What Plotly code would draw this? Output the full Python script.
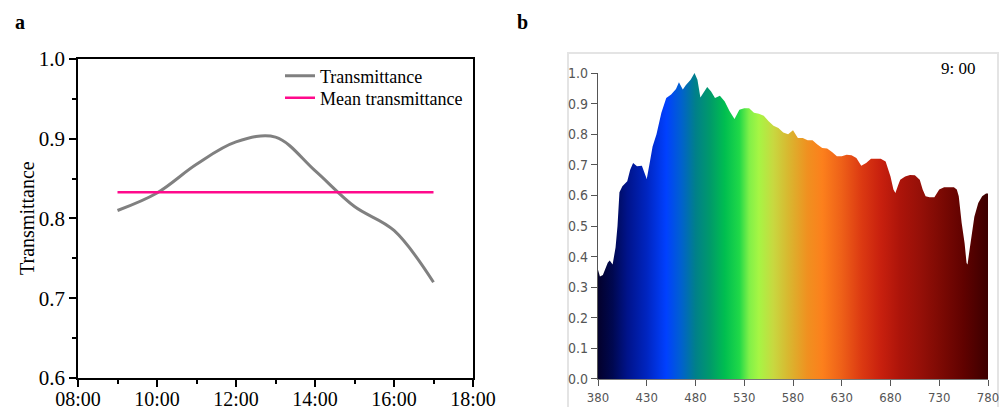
import plotly.graph_objects as go

# ---------------- data: panel a ----------------
hours = [9, 10, 11, 12, 13, 14, 15, 16, 17]
transmittance = [0.810, 0.832, 0.868, 0.896, 0.902, 0.860, 0.815, 0.785, 0.720]
mean_transmittance = 0.833
a_xtick_vals = [8, 10, 12, 14, 16, 18]
a_xtick_text = ["08:00", "10:00", "12:00", "14:00", "16:00", "18:00"]
a_ytick_vals = [0.6, 0.7, 0.8, 0.9, 1.0]

# ---------------- data: panel b (spectrum at 9:00) ----------------
wavelength = [380, 382, 385, 390, 392, 395, 398, 400, 402, 405, 410, 413, 416, 420, 425,
              430, 433, 436, 440, 445, 450, 455, 460, 463, 467, 470, 475, 479, 482, 485,
              488, 492, 496, 500, 505, 510, 515, 520, 525, 530, 535, 540, 545, 550, 555,
              560, 565, 570, 575, 580, 585, 590, 595, 600, 605, 610, 615, 620, 625, 630,
              635, 640, 645, 650, 655, 660, 665, 670, 675, 680, 683, 685, 688, 690, 695,
              700, 705, 710, 713, 716, 720, 725, 730, 735, 740, 745, 748, 750, 753, 756,
              758, 759, 761, 763, 766, 770, 774, 778, 780]
intensity = [0.357, 0.335, 0.340, 0.380, 0.387, 0.374, 0.430, 0.500, 0.610, 0.630, 0.646,
             0.684, 0.706, 0.695, 0.697, 0.654, 0.706, 0.760, 0.800, 0.870, 0.918, 0.930,
             0.948, 0.970, 0.946, 0.960, 0.978, 1.000, 0.978, 0.920, 0.935, 0.954, 0.940,
             0.918, 0.926, 0.907, 0.875, 0.850, 0.880, 0.885, 0.885, 0.870, 0.867, 0.860,
             0.842, 0.828, 0.820, 0.806, 0.800, 0.813, 0.788, 0.788, 0.780, 0.780, 0.766,
             0.755, 0.753, 0.742, 0.728, 0.728, 0.733, 0.731, 0.722, 0.697, 0.706, 0.720,
             0.720, 0.720, 0.711, 0.662, 0.619, 0.608, 0.635, 0.651, 0.662, 0.667, 0.666,
             0.651, 0.619, 0.597, 0.594, 0.594, 0.619, 0.627, 0.627, 0.627, 0.619, 0.597,
             0.510, 0.444, 0.379, 0.374, 0.420, 0.466, 0.530, 0.575, 0.597, 0.606, 0.606]
b_xtick_vals = [380, 430, 480, 530, 580, 630, 680, 730, 780]
b_ytick_vals = [0.0, 0.1, 0.2, 0.3, 0.4, 0.5, 0.6, 0.7, 0.8, 0.9, 1.0]

# spectrum colour stops (wavelength, colour)
spectrum_stops = [
    (380, "#03012c"), (395, "#000850"), (410, "#00138a"), (430, "#0025c0"),
    (450, "#0040ff"), (465, "#0060d0"), (480, "#00808a"), (495, "#009a6a"),
    (510, "#00be50"), (525, "#20d848"), (535, "#80f048"), (545, "#a6f544"),
    (560, "#c8d840"), (575, "#d8b830"), (595, "#f09020"), (610, "#fc801c"),
    (630, "#ee6018"), (650, "#dc3a12"), (670, "#c8200e"), (690, "#ac140a"),
    (710, "#961008"), (730, "#7e0a04"), (755, "#600200"), (780, "#3c0000"),
]
w0, w1 = wavelength[0], wavelength[-1]
colorscale = [[(w - w0) / (w1 - w0), c] for w, c in spectrum_stops]

SERIF = "Liberation Serif, Times New Roman, serif"
NARROW = "Liberation Sans Narrow, DejaVu Sans Condensed, Arial Narrow, sans-serif"
H = 407.0

fig = go.Figure()

fig.add_trace(go.Scatter(
    x=hours, y=transmittance, mode="lines", name="Transmittance",
    line=dict(color="#808080", width=3, shape="spline", smoothing=1.0),
    xaxis="x", yaxis="y", legend="legend",
))
fig.add_trace(go.Scatter(
    x=[hours[0], hours[-1]], y=[mean_transmittance, mean_transmittance],
    mode="lines", name="Mean transmittance",
    line=dict(color="#ff0a8c", width=2.5),
    xaxis="x", yaxis="y", legend="legend2",
))
fig.add_trace(go.Scatter(
    x=wavelength, y=intensity, mode="lines", showlegend=False,
    line=dict(width=0, color="rgba(0,0,0,0)"),
    fill="tozeroy",
    fillgradient=dict(type="horizontal", colorscale=colorscale),
    xaxis="x2", yaxis="y2", hoverinfo="skip",
))

legend_style = dict(
    xanchor="left", yanchor="middle",
    font=dict(family=SERIF, size=18, color="black"),
    bgcolor="rgba(0,0,0,0)", borderwidth=0,
)

fig.update_layout(
    width=1000, height=407,
    margin=dict(l=0, r=0, t=0, b=0, autoexpand=False),
    paper_bgcolor="white", plot_bgcolor="white",
    showlegend=True,
    legend=dict(x=0.280, y=1 - 76 / H, **legend_style),
    legend2=dict(x=0.280, y=1 - 98 / H, **legend_style),
    xaxis=dict(
        domain=[0.078, 0.473], range=[8, 18], automargin=False,
        tickvals=a_xtick_vals, ticktext=a_xtick_text,
        ticks="outside", ticklen=7, tickwidth=1.5, tickcolor="black",
        ticklabelstandoff=-5,
        minor=dict(ticks="outside", ticklen=4, dtick=1, tickcolor="black", tickwidth=1.5),
        showline=True, linecolor="black", linewidth=1.5, mirror=True,
        showgrid=False, zeroline=False,
        tickfont=dict(family=SERIF, size=20, color="black"),
    ),
    yaxis=dict(
        domain=[0.0713, 0.855], range=[0.6, 1.0], automargin=False,
        tickvals=a_ytick_vals, tickformat=".1f",
        ticks="outside", ticklen=7, tickwidth=1.5, tickcolor="black",
        minor=dict(ticks="outside", ticklen=4, dtick=0.05, tickcolor="black", tickwidth=1.5),
        showline=True, linecolor="black", linewidth=1.5, mirror=True,
        showgrid=False, zeroline=False,
        tickfont=dict(family=SERIF, size=21, color="black"),
    ),
    xaxis2=dict(
        domain=[0.598, 0.988], range=[380, 780], anchor="y2", automargin=False,
        tickvals=b_xtick_vals,
        ticks="outside", ticklen=6, tickwidth=1, tickcolor="#555555",
        showline=True, linecolor="#777777", linewidth=1,
        showgrid=False, zeroline=False,
        tickfont=dict(family=NARROW, size=13, color="#555555"),
    ),
    yaxis2=dict(
        domain=[0.0688, 0.8206], range=[0, 1.0], anchor="x2", automargin=False,
        tickvals=b_ytick_vals, tickformat=".1f",
        ticks="outside", ticklen=6, tickwidth=1, tickcolor="#555555",
        showline=True, linecolor="#555555", linewidth=1.2,
        showgrid=False, zeroline=False,
        tickfont=dict(family=NARROW, size=14, color="#555555"),
    ),
    shapes=[
        dict(type="rect", xref="paper", yref="paper",
             x0=0.568, x1=0.998, y0=-0.05, y1=1 - 53 / H,
             line=dict(color="#e4e4e4", width=2), fillcolor="rgba(0,0,0,0)", layer="below"),
    ],
    annotations=[
        dict(text="Transmittance", xref="paper", yref="paper", x=0.027, y=1 - 218 / H,
             xanchor="center", yanchor="middle", textangle=-90, showarrow=False,
             font=dict(family=SERIF, size=20, color="black")),
        dict(text="<b>a</b>", xref="paper", yref="paper", x=0.020, y=1 - 22 / H,
             xanchor="center", yanchor="middle",
             showarrow=False, font=dict(family=SERIF, size=20, color="black")),
        dict(text="<b>b</b>", xref="paper", yref="paper", x=0.522, y=1 - 22 / H,
             xanchor="center", yanchor="middle",
             showarrow=False, font=dict(family=SERIF, size=20, color="black")),
        dict(text="9: 00", xref="paper", yref="paper", x=0.958, y=1 - 68 / H,
             xanchor="center", yanchor="middle",
             showarrow=False, font=dict(family=SERIF, size=17, color="black")),
    ],
)

fig.write_html("out.html", config={"displayModeBar": False},
               post_script="document.body.style.margin='0';")
